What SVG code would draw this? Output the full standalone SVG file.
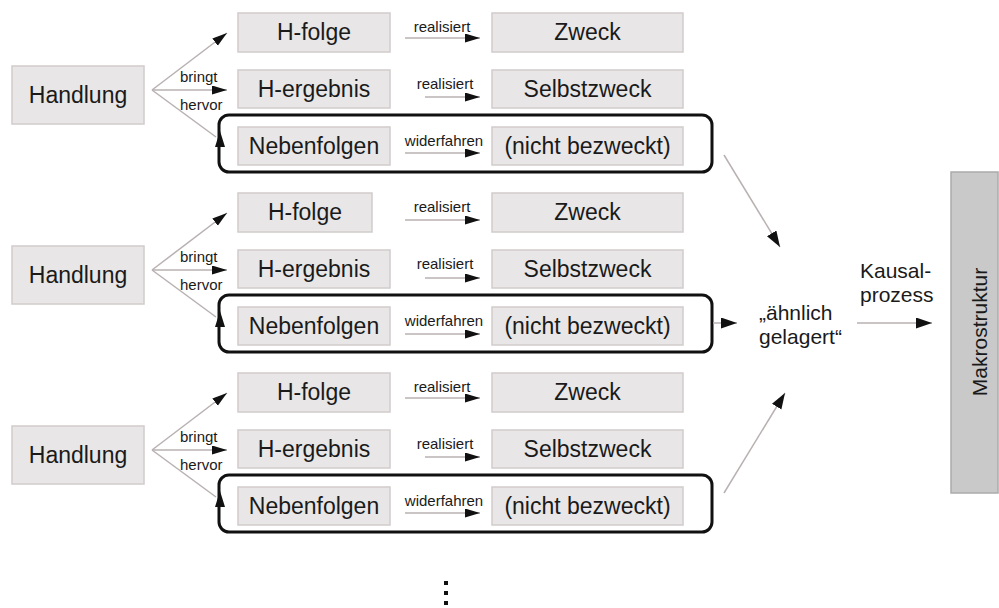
<svg xmlns="http://www.w3.org/2000/svg" width="999" height="608" viewBox="0 0 999 608">
<style>
.box{fill:#e8e6e6;stroke:#d2cccc;stroke-width:1.5}
.frame{fill:none;stroke:#111;stroke-width:3}
.t{font-family:"Liberation Sans",Arial,sans-serif;font-size:23px;fill:#1a1a1a;text-anchor:middle}
.s{font-family:"Liberation Sans",Arial,sans-serif;font-size:15px;fill:#1a1a1a}
.m{font-family:"Liberation Sans",Arial,sans-serif;font-size:21px;fill:#1a1a1a}
.ln{stroke:#b9b1b1;stroke-width:1.5;fill:none}
.big{stroke:#b9b1b1;stroke-width:1.5;fill:none}
</style>
<defs>
<marker id="ah" markerUnits="userSpaceOnUse" markerWidth="16" markerHeight="10" refX="15" refY="4.5" orient="auto"><path d="M0,0 L15,4.5 L0,9 z" fill="#111"/></marker>
<marker id="ahb" markerUnits="userSpaceOnUse" markerWidth="17" markerHeight="12" refX="16" refY="5.5" orient="auto"><path d="M0,0 L16,5.5 L0,11 z" fill="#111"/></marker>
</defs>
<rect width="999" height="608" fill="#fff"/>

<g id="group1">
<g id="handlung1"><rect class="box" x="12" y="66" width="132" height="58"/><text class="t" x="78" y="103">Handlung</text></g>
<g id="hfolge1"><rect class="box" x="238" y="13" width="152" height="39"/><text class="t" x="314" y="40">H-folge</text></g>
<g id="hergebnis1"><rect class="box" x="238" y="70" width="152" height="38"/><text class="t" x="314" y="97">H-ergebnis</text></g>
<g id="nebenfolgen1"><rect class="box" x="238" y="127" width="152" height="38"/><text class="t" x="314" y="154">Nebenfolgen</text></g>
<g id="zweck1"><rect class="box" x="492" y="13" width="191" height="39"/><text class="t" x="587.5" y="40">Zweck</text></g>
<g id="selbstzweck1"><rect class="box" x="492" y="70" width="191" height="38"/><text class="t" x="587.5" y="97">Selbstzweck</text></g>
<g id="nichtbezweckt1"><rect class="box" x="492" y="127" width="191" height="38"/><text class="t" x="587.5" y="154">(nicht bezweckt)</text></g>
<g id="frame1"><rect class="frame" x="219" y="115" width="493" height="57" rx="10"/></g>
</g>

<g id="group2">
<g id="handlung2"><rect class="box" x="12" y="246" width="132" height="58"/><text class="t" x="78" y="283">Handlung</text></g>
<g id="hfolge2"><rect class="box" x="238" y="193" width="134" height="39"/><text class="t" x="305" y="220">H-folge</text></g>
<g id="hergebnis2"><rect class="box" x="238" y="250" width="152" height="38"/><text class="t" x="314" y="277">H-ergebnis</text></g>
<g id="nebenfolgen2"><rect class="box" x="238" y="307" width="152" height="38"/><text class="t" x="314" y="334">Nebenfolgen</text></g>
<g id="zweck2"><rect class="box" x="492" y="193" width="191" height="39"/><text class="t" x="587.5" y="220">Zweck</text></g>
<g id="selbstzweck2"><rect class="box" x="492" y="250" width="191" height="38"/><text class="t" x="587.5" y="277">Selbstzweck</text></g>
<g id="nichtbezweckt2"><rect class="box" x="492" y="307" width="191" height="38"/><text class="t" x="587.5" y="334">(nicht bezweckt)</text></g>
<g id="frame2"><rect class="frame" x="219" y="295" width="493" height="57" rx="10"/></g>
</g>

<g id="group3">
<g id="handlung3"><rect class="box" x="12" y="426" width="132" height="58"/><text class="t" x="78" y="463">Handlung</text></g>
<g id="hfolge3"><rect class="box" x="238" y="373" width="152" height="39"/><text class="t" x="314" y="400">H-folge</text></g>
<g id="hergebnis3"><rect class="box" x="238" y="430" width="152" height="38"/><text class="t" x="314" y="457">H-ergebnis</text></g>
<g id="nebenfolgen3"><rect class="box" x="238" y="487" width="152" height="38"/><text class="t" x="314" y="514">Nebenfolgen</text></g>
<g id="zweck3"><rect class="box" x="492" y="373" width="191" height="39"/><text class="t" x="587.5" y="400">Zweck</text></g>
<g id="selbstzweck3"><rect class="box" x="492" y="430" width="191" height="38"/><text class="t" x="587.5" y="457">Selbstzweck</text></g>
<g id="nichtbezweckt3"><rect class="box" x="492" y="487" width="191" height="38"/><text class="t" x="587.5" y="514">(nicht bezweckt)</text></g>
<g id="frame3"><rect class="frame" x="219" y="475" width="493" height="57" rx="10"/></g>
</g>

<g id="aehnlich"><text class="m" x="759" y="320">„ähnlich</text><text class="m" x="759" y="344">gelagert“</text></g>
<g id="makrostruktur"><rect x="951" y="172" width="47" height="321" fill="#c9c9c9" stroke="#ababab" stroke-width="1.5"/><text class="m" font-size="23.5" text-anchor="middle" transform="translate(987,332) rotate(-90)">Makrostruktur</text></g>
<g id="dots"><rect x="444" y="581" width="4" height="4" fill="#111"/><rect x="444" y="591" width="4" height="4" fill="#111"/><rect x="444" y="601" width="4" height="4" fill="#111"/></g>

<g id="connectors">
<g id="c1">
<line class="ln" x1="152" y1="90" x2="227" y2="33" marker-end="url(#ah)"/>
<line class="ln" x1="152" y1="90" x2="227" y2="90" marker-end="url(#ah)"/>
<line class="ln" x1="152" y1="90" x2="216" y2="137"/>
<polygon points="220,131 215,147 225,147" fill="#111"/>
<text class="s" x="180" y="82">bringt</text>
<text class="s" x="180" y="110">hervor</text>
<line class="ln" x1="405" y1="38" x2="480" y2="38" marker-end="url(#ah)"/>
<text class="s" x="442" y="32" text-anchor="middle">realisiert</text>
<line class="ln" x1="425" y1="97" x2="480" y2="97" marker-end="url(#ah)"/>
<text class="s" x="445" y="89" text-anchor="middle">realisiert</text>
<line class="ln" x1="405" y1="153" x2="480" y2="153" marker-end="url(#ah)"/>
<text class="s" x="444" y="146" text-anchor="middle">widerfahren</text>
</g>
<g id="c2">
<line class="ln" x1="152" y1="270" x2="227" y2="213" marker-end="url(#ah)"/>
<line class="ln" x1="152" y1="270" x2="227" y2="270" marker-end="url(#ah)"/>
<line class="ln" x1="152" y1="270" x2="216" y2="317"/>
<polygon points="220,311 215,327 225,327" fill="#111"/>
<text class="s" x="180" y="262">bringt</text>
<text class="s" x="180" y="290">hervor</text>
<line class="ln" x1="405" y1="220" x2="480" y2="220" marker-end="url(#ah)"/>
<text class="s" x="442" y="212" text-anchor="middle">realisiert</text>
<line class="ln" x1="425" y1="278" x2="480" y2="278" marker-end="url(#ah)"/>
<text class="s" x="445" y="269" text-anchor="middle">realisiert</text>
<line class="ln" x1="405" y1="334" x2="480" y2="334" marker-end="url(#ah)"/>
<text class="s" x="444" y="326" text-anchor="middle">widerfahren</text>
</g>
<g id="c3">
<line class="ln" x1="152" y1="450" x2="227" y2="393" marker-end="url(#ah)"/>
<line class="ln" x1="152" y1="450" x2="227" y2="450" marker-end="url(#ah)"/>
<line class="ln" x1="152" y1="450" x2="216" y2="497"/>
<polygon points="220,491 215,507 225,507" fill="#111"/>
<text class="s" x="180" y="442">bringt</text>
<text class="s" x="180" y="470">hervor</text>
<line class="ln" x1="405" y1="398" x2="480" y2="398" marker-end="url(#ah)"/>
<text class="s" x="442" y="392" text-anchor="middle">realisiert</text>
<line class="ln" x1="425" y1="457" x2="480" y2="457" marker-end="url(#ah)"/>
<text class="s" x="445" y="449" text-anchor="middle">realisiert</text>
<line class="ln" x1="405" y1="513" x2="480" y2="513" marker-end="url(#ah)"/>
<text class="s" x="444" y="506" text-anchor="middle">widerfahren</text>
</g>
<line class="big" x1="724" y1="155" x2="780" y2="247" marker-end="url(#ahb)"/>
<line class="big" x1="713" y1="323" x2="737" y2="323" marker-end="url(#ahb)"/>
<line class="big" x1="724" y1="493" x2="785" y2="393" marker-end="url(#ahb)"/>
<line class="big" x1="857" y1="323" x2="932" y2="323" marker-end="url(#ahb)"/>
<text class="m" font-size="20" x="860" y="278">Kausal-</text>
<text class="m" font-size="20" x="860" y="302">prozess</text>
</g>
</svg>
